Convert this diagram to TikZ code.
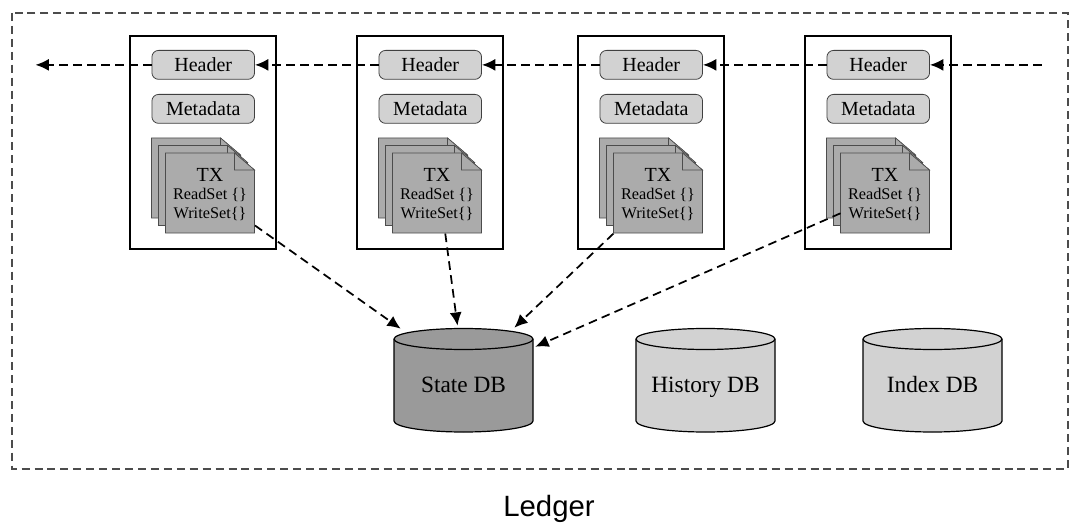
\documentclass[tikz,border=0pt]{standalone}
\usepackage{fontspec}
\setmainfont{Liberation Serif}
\newfontfamily\ledgerfont{Liberation Sans}
\usetikzlibrary{arrows.meta,calc}
\definecolor{lightg}{HTML}{D2D2D2}
\definecolor{docg}{HTML}{ABABAB}
\definecolor{stateg}{HTML}{9A9A9A}
\tikzset{
  blockbox/.style={draw=black,line width=1.5pt,minimum width=109.5pt,minimum height=160pt,inner sep=0pt},
  pill/.style={draw=black!75,line width=.6pt,fill=lightg,rounded corners=5pt,minimum width=77pt,minimum height=21.7pt,inner sep=0pt,text height=11pt,text depth=.5pt,font=\fontsize{15}{16}\selectfont},
  sheet/.style={draw=black!70,line width=.5pt,fill=docg},
  txbox/.style={minimum width=66.75pt,minimum height=60pt,inner sep=0pt,align=center},
  dbbox/.style={minimum width=104.25pt,minimum height=78pt,inner sep=0pt,text height=11pt,text depth=0pt,font=\fontsize{17.5}{18}\selectfont},
  flow/.style={dash pattern=on 6.5pt off 4pt,line width=1.3pt,-{Latex[length=10pt,width=9pt]}},
  frame/.style={dash pattern=on 6pt off 3.7pt,line width=1.7pt,draw=black!70}
}
\newcommand{\onesheet}[2]{% top-left x,y in px
  \draw[sheet] (#1,#2) -- ++(69,0) -- ++(20,17) -- ++(0,63) -- ++(-89,0) -- cycle;
  \draw[sheet] (#1+69,#2) -- ++(0,17) -- ++(20,0) -- cycle;
}
\newcommand{\dbdraw}[2]{% left x, fill
  \draw[black,line width=.9pt,fill=#2] (#1,339) -- (#1,421) arc[start angle=180,end angle=0,x radius=69.5,y radius=11] -- (#1+139,339) arc[start angle=0,end angle=-180,x radius=69.5,y radius=10.5] -- cycle;
  \draw[black,line width=.9pt] (#1,339) arc[start angle=180,end angle=0,x radius=69.5,y radius=10.5];
}
\begin{document}
\begin{tikzpicture}[x=0.75pt,y=-0.75pt]
\useasboundingbox (0,0) rectangle (1088,531);
\fill[white] (0,0) rectangle (1088,531);
\draw[frame] (12,13) rectangle (1068,469);
\node[font=\ledgerfont\fontsize{22}{23}\selectfont] (ledger) at (549,509) {Ledger};

\foreach \n/\x in {1/129.5,2/356.5,3/577.5,4/804.5}{
  \node[blockbox,anchor=north west] (block\n) at (\x-0.8,35) {};
  \node[pill,anchor=north west] (head\n) at (\x+22,50) {Header};
  \node[pill,anchor=north west] (meta\n) at (\x+22,94) {Metadata};
  \onesheet{\x+22}{138}
  \onesheet{\x+29}{145.5}
  \onesheet{\x+36}{153}
  \node[txbox,anchor=north west] (tx\n) at (\x+36,153) {};
  \node[font=\fontsize{15}{16}\selectfont] (txa\n) at (\x+80.5,175) {TX};
  \node[font=\fontsize{12.2}{13}\selectfont] (txb\n) at (\x+80.5,195) {ReadSet \{\}};
  \node[font=\fontsize{12.2}{13}\selectfont] (txc\n) at (\x+80.5,214) {WriteSet\{\}};
}

\dbdraw{394}{stateg}
\dbdraw{636}{lightg}
\dbdraw{863}{lightg}
\node[dbbox] (state) at (463.5,385) {State DB};
\node[dbbox] (history) at (705.5,385) {History DB};
\node[dbbox] (index) at (932.5,385) {Index DB};

\path (head4.east) ++(112,0) coordinate (chainin);
\path (head1.west) ++(-116,0) coordinate (chainout);
\draw[flow] (chainin) -- (head4.east);
\draw[flow] (head4.west) -- (head3.east);
\draw[flow] (head3.west) -- (head2.east);
\draw[flow] (head2.west) -- (head1.east);
\draw[flow] (head1.west) -- (chainout);

\draw[flow] ($(tx1.south east)+(0,-8)$) -- ($(state.north west)+(7,-4)$);
\draw[flow] ($(tx2.south)+(8,0)$) -- ($(state.north)+(-6,-7)$);
\draw[flow] (tx3.south west) -- ($(state.north east)+(-19,-5)$);
\draw[flow] ($(tx4.west)+(0,20)$) -- ($(state.north east)+(2,14)$);
\end{tikzpicture}
\end{document}
